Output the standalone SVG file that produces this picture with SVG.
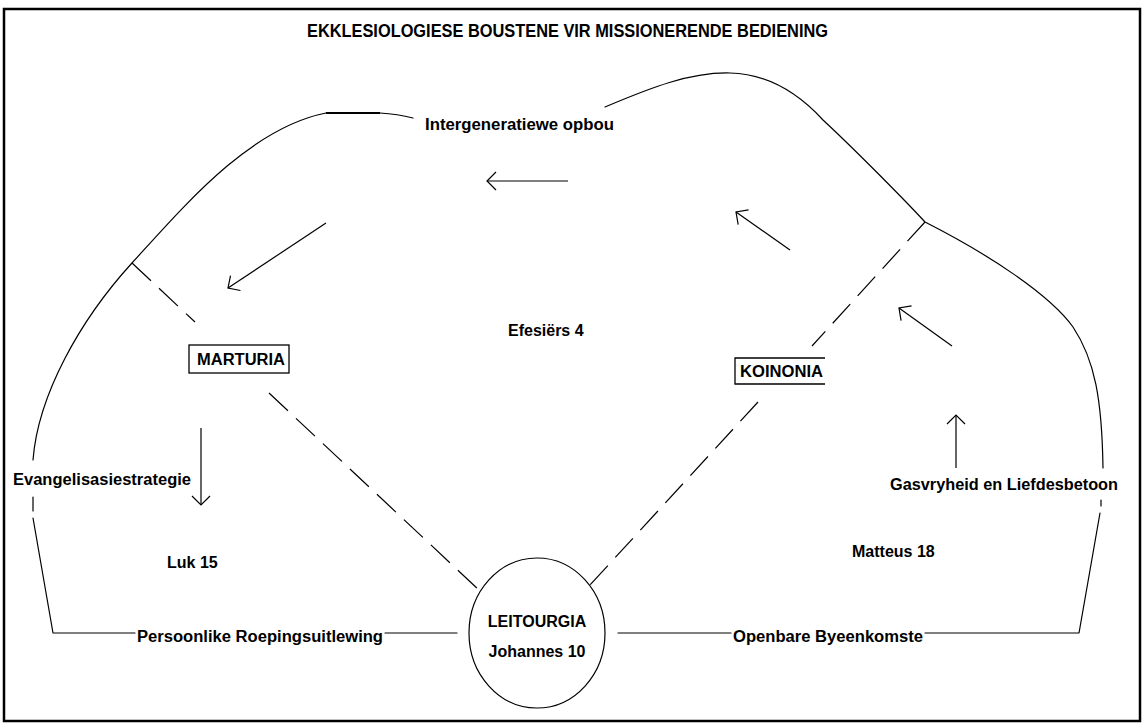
<svg xmlns="http://www.w3.org/2000/svg" width="1144" height="723" viewBox="0 0 1144 723">
  <style>
    .ln { fill: none; stroke: #000; stroke-width: 1.2; stroke-linecap: round; stroke-linejoin: round; }
    .dash { fill: none; stroke: #000; stroke-width: 1.2; stroke-dasharray: 26 11; }
    .arr { fill: none; stroke: #000; stroke-width: 1.2; marker-end: url(#head); }
    .box { fill: #fff; stroke: #000; stroke-width: 1.3; }
    .t { font-family: "Liberation Sans", Arial, sans-serif; font-weight: bold; font-size: 16px; fill: #000; }
    .title { font-size: 18px; }
  </style>
  <defs>
    <marker id="head" markerUnits="userSpaceOnUse" markerWidth="24" markerHeight="24" refX="0" refY="0" viewBox="-12 -12 24 24" orient="auto" overflow="visible">
      <path d="M-9,-9 L0,0 L-9,9" fill="none" stroke="#000" stroke-width="1.2"/>
    </marker>
  </defs>
  <rect width="1144" height="723" fill="#fff"/>
  <rect x="4" y="9" width="1136" height="712" fill="none" stroke="#000" stroke-width="2.5"/>

  <g id="title">
    <text class="t title" x="307" y="37" textLength="521" lengthAdjust="spacingAndGlyphs">EKKLESIOLOGIESE BOUSTENE VIR MISSIONERENDE BEDIENING</text>
  </g>

  <g id="outline">
    <path class="ln" d="M33,460 C38,395 80,320 132,263 C185,205 250,128 326,113 L380,113 C395,114 405,116 413,118"/>
    <path d="M326,113 L380,113" stroke="#000" stroke-width="2" fill="none"/>
    <path class="ln" d="M33,497 L33,511 M33,518 L53,633 L135,633 M385,633 L457,633"/>
    <path class="ln" d="M605,107 C650,88 690,72 730,73 C770,74 800,95 823,120 C850,145 900,195 925,222 C990,255 1050,295 1073,327 C1095,360 1102,400 1103,468"/>
    <path class="ln" d="M1101,500 L1101,506 M1100,513 L1079,633 L925,633 M731,633 L618,633"/>
  </g>

  <g id="connectors">
    <path class="dash" d="M132,263 L195,322"/>
    <path class="dash" d="M269,393 L480,591"/>
    <path class="dash" d="M925,222 L812,346"/>
    <path class="dash" d="M758,402 L590,585"/>
    <path class="arr" d="M568,181 L487,181"/>
    <path class="arr" d="M326,223 L228,288"/>
    <path class="arr" d="M790,250 L736,212"/>
    <path class="arr" d="M952,346 L899,308"/>
    <path class="arr" d="M201,428 L201,505"/>
    <path class="arr" d="M956,468 L956,415"/>
  </g>

  <g id="marturia">
    <rect class="box" x="189" y="345" width="100" height="28"/>
    <text class="t" x="197" y="365" textLength="88" lengthAdjust="spacingAndGlyphs">MARTURIA</text>
  </g>

  <g id="koinonia">
    <path d="M825,358 L735,358 L735,384 L825,384" fill="#fff" stroke="#000" stroke-width="1.3"/>
    <text class="t" x="740" y="377" textLength="83" lengthAdjust="spacingAndGlyphs">KOINONIA</text>
  </g>

  <g id="leitourgia">
    <ellipse cx="537" cy="633" rx="68" ry="75" fill="#fff" stroke="#000" stroke-width="1.2"/>
    <text class="t" x="537" y="627" text-anchor="middle">LEITOURGIA</text>
    <text class="t" x="537" y="657" text-anchor="middle">Johannes 10</text>
  </g>

  <g id="labels">
    <text class="t" x="425" y="130" textLength="189" lengthAdjust="spacingAndGlyphs">Intergeneratiewe opbou</text>
    <text class="t" x="508" y="336">Efesiërs 4</text>
    <text class="t" x="13" y="485" textLength="178" lengthAdjust="spacingAndGlyphs">Evangelisasiestrategie</text>
    <text class="t" x="890" y="490" textLength="228" lengthAdjust="spacingAndGlyphs">Gasvryheid en Liefdesbetoon</text>
    <text class="t" x="167" y="568">Luk 15</text>
    <text class="t" x="852" y="557">Matteus 18</text>
    <text class="t" x="137" y="642" textLength="246" lengthAdjust="spacingAndGlyphs">Persoonlike Roepingsuitlewing</text>
    <text class="t" x="733" y="642" textLength="190" lengthAdjust="spacingAndGlyphs">Openbare Byeenkomste</text>
  </g>
</svg>
